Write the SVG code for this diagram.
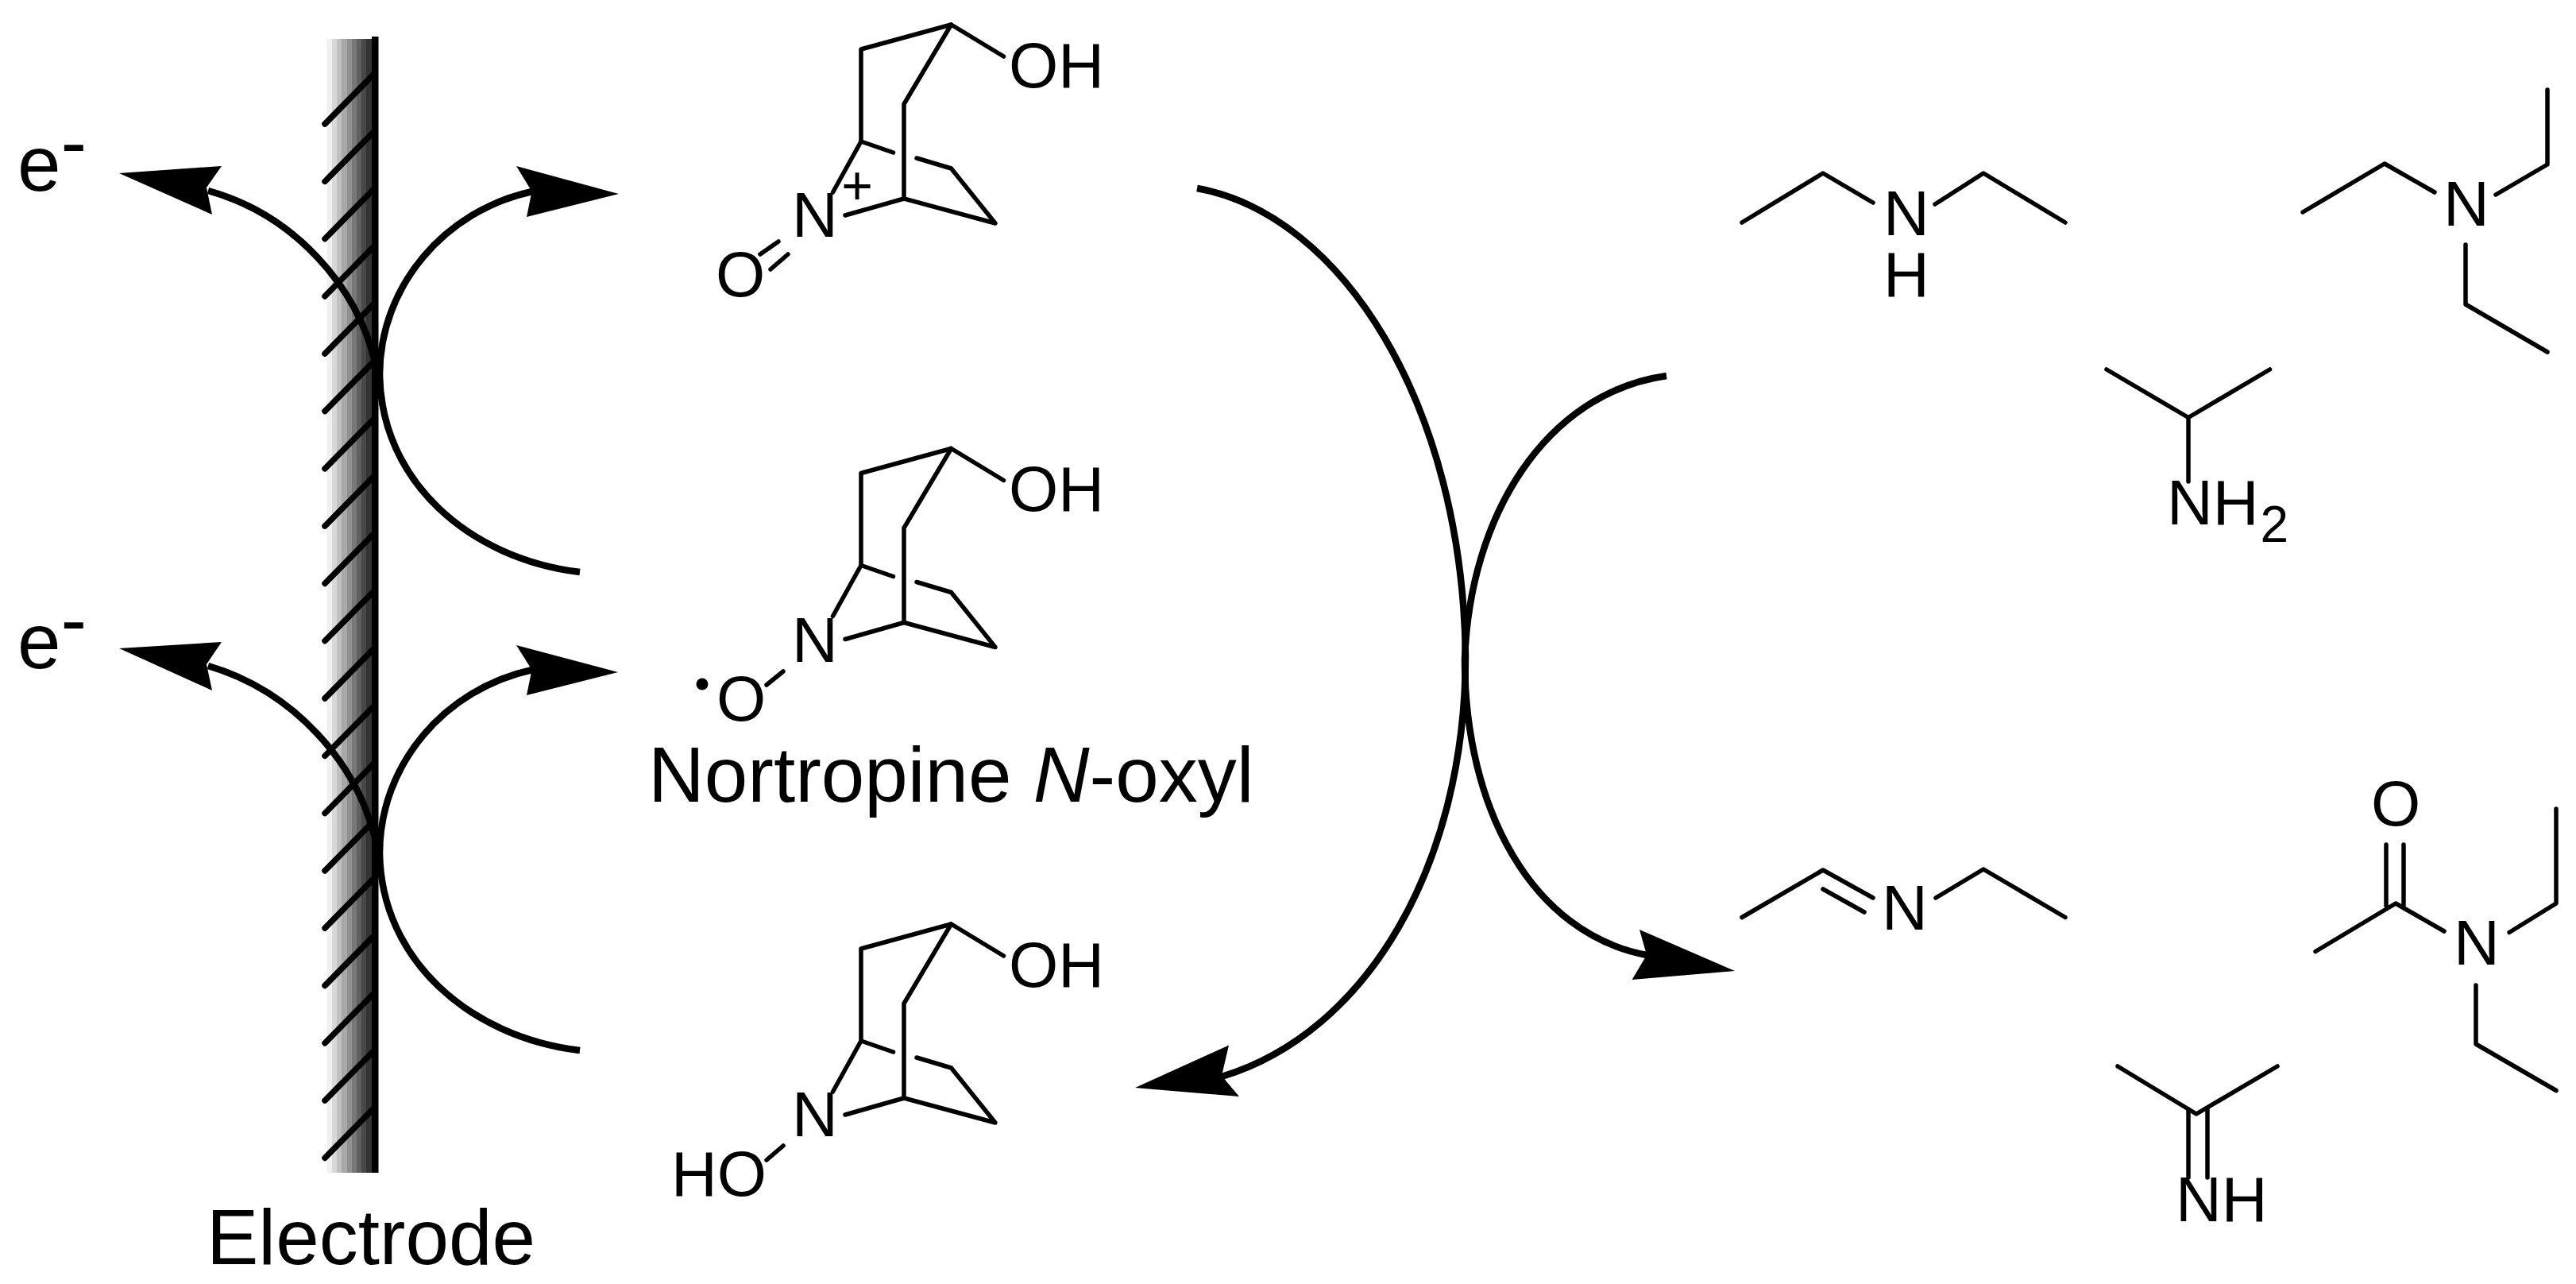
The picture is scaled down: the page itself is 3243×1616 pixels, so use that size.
<svg xmlns="http://www.w3.org/2000/svg" width="3243" height="1616" viewBox="0 0 3243 1616">
<style>
text{font-family:"Liberation Sans",Arial,sans-serif;font-size:80px;fill:#000}
.big{font-size:98px}
.sub{font-size:64px}
.plus{font-size:68px}
.b{fill:none;stroke:#000;stroke-width:5.5;stroke-linecap:round;stroke-linejoin:round}
.c{fill:none;stroke:#000;stroke-width:8.5}
.h{fill:#000}
.hatch{stroke:#000;stroke-width:7.5;stroke-linecap:round}
</style>
<defs>
<linearGradient id="bar" x1="412" x2="468" y1="0" y2="0" gradientUnits="userSpaceOnUse">
<stop offset="0" stop-color="#f0f0f0"/><stop offset=".11" stop-color="#f0f0f0"/>
<stop offset=".11" stop-color="#d8d8d8"/><stop offset=".22" stop-color="#d8d8d8"/>
<stop offset=".22" stop-color="#c0c0c0"/><stop offset=".33" stop-color="#c0c0c0"/>
<stop offset=".33" stop-color="#a8a8a8"/><stop offset=".44" stop-color="#a8a8a8"/>
<stop offset=".44" stop-color="#909090"/><stop offset=".55" stop-color="#909090"/>
<stop offset=".55" stop-color="#787878"/><stop offset=".66" stop-color="#787878"/>
<stop offset=".66" stop-color="#606060"/><stop offset=".77" stop-color="#606060"/>
<stop offset=".77" stop-color="#484848"/><stop offset=".88" stop-color="#484848"/>
<stop offset=".88" stop-color="#333333"/><stop offset="1" stop-color="#333333"/>
</linearGradient>
<g id="hatchmark"><line class="hatch" x1="409" y1="156" x2="470" y2="94"/></g>
<g id="bicycle">
<polyline class="b" points="1263.5,71 1197.5,31 1084,62 1084,178 1048.5,242"/>
<polyline class="b" points="1197.5,31 1138,131 1138,250 1064,271"/>
<polyline class="b" points="1138,250 1253,281 1197.5,212 1154,199"/>
<line class="b" x1="1084" y1="178" x2="1124.5" y2="192"/>
</g>
</defs>

<g id="electrode">
<rect x="412" y="49" width="56" height="1427" fill="url(#bar)"/>
<use href="#hatchmark"/>
<use href="#hatchmark" y="72.3"/>
<use href="#hatchmark" y="144.6"/>
<use href="#hatchmark" y="216.9"/>
<use href="#hatchmark" y="289.2"/>
<use href="#hatchmark" y="361.5"/>
<use href="#hatchmark" y="433.8"/>
<use href="#hatchmark" y="506.1"/>
<use href="#hatchmark" y="578.4"/>
<use href="#hatchmark" y="650.7"/>
<use href="#hatchmark" y="723"/>
<use href="#hatchmark" y="795.3"/>
<use href="#hatchmark" y="867.6"/>
<use href="#hatchmark" y="939.9"/>
<use href="#hatchmark" y="1012.2"/>
<use href="#hatchmark" y="1084.5"/>
<use href="#hatchmark" y="1156.8"/>
<use href="#hatchmark" y="1229.1"/>
<use href="#hatchmark" y="1301.4"/>
<rect x="468" y="46" width="8.5" height="1430" fill="#000"/>
<text class="big" x="260" y="1591">Electrode</text>
</g>

<g id="electron-1"><text class="big" x="22" y="240">e<tspan dy="-28">-</tspan></text></g>
<g id="electron-2"><text class="big" x="22" y="841">e<tspan dy="-28">-</tspan></text></g>

<g id="connectors">
<path class="c" d="M473,459 C450,360 370,270 262,240"/>
<polygon class="h" points="150,218 279,209 260,236 267,270"/>
<path class="c" d="M730,720 C590,703 480,605 478,472 C478,360 560,265 670,241"/>
<polygon class="h" points="779,244 650,209 669.5,241 663,273"/>
<path class="c" d="M473,1059 C450,960 370,870 262,838"/>
<polygon class="h" points="150,816 279,808 260,836 267,869"/>
<path class="c" d="M730,1322 C590,1305 480,1207 478,1074 C478,962 560,867 670,843"/>
<polygon class="h" points="778,846 650,812 669.5,843 663,875"/>
<path class="c" d="M1507,237 C1690,270 1841,510 1845,825 C1845,1090 1720,1300 1538,1355"/>
<polygon class="h" points="1429,1369 1547,1315.5 1538,1354 1560,1380"/>
<path class="c" d="M2098,473 C1945,495 1850,650 1844,830 C1844,1020 1930,1175 2073,1202"/>
<polygon class="h" points="2184,1222 2064,1170 2073,1202 2054.6,1233"/>
</g>

<g id="n-oxoammonium">
<use href="#bicycle"/>
<text x="1270" y="110">OH</text>
<text x="997" y="298">N</text>
<text class="plus" x="1079" y="257" text-anchor="middle">+</text>
<text x="932" y="373" text-anchor="middle">O</text>
<line class="b" x1="957" y1="320" x2="980" y2="304"/>
<line class="b" x1="970" y1="339" x2="992" y2="320"/>
</g>

<g id="nortropine-n-oxyl">
<use href="#bicycle" y="533.5"/>
<text x="1270" y="643">OH</text>
<text x="997" y="833">N</text>
<text x="933" y="907" text-anchor="middle">O</text>
<line class="b" x1="965" y1="862" x2="986" y2="845"/>
<circle cx="884" cy="861" r="7.5" fill="#000"/>
<text class="big" x="816" y="1009">Nortropine <tspan font-style="italic">N</tspan>-oxyl</text>
</g>

<g id="hydroxylamine">
<use href="#bicycle" y="1132"/>
<text x="1270" y="1242">OH</text>
<text x="997" y="1430">N</text>
<text x="845" y="1505">HO</text>
<line class="b" x1="965" y1="1460" x2="986" y2="1442"/>
</g>

<g id="diethylamine">
<polyline class="b" points="2193,280 2295,218 2358,255"/>
<polyline class="b" points="2436,257 2497,218 2600,280"/>
<text x="2400" y="296" text-anchor="middle">N</text>
<text x="2400" y="373" text-anchor="middle">H</text>
</g>

<g id="triethylamine">
<polyline class="b" points="2899,267 3002,206 3065,242"/>
<polyline class="b" points="3142,245 3207,207 3207,113"/>
<polyline class="b" points="3104,308 3104,383 3207,443"/>
<text x="3105" y="284" text-anchor="middle">N</text>
</g>

<g id="isopropylamine">
<polyline class="b" points="2652,465 2755,525.5 2857.5,465"/>
<line class="b" x1="2755" y1="525.5" x2="2755" y2="606"/>
<text x="2728" y="660">NH<tspan class="sub" dx="2" dy="22">2</tspan></text>
</g>

<g id="imine">
<polyline class="b" points="2193,1154.5 2295,1095 2358,1130"/>
<line class="b" x1="2295" y1="1119" x2="2347" y2="1148"/>
<polyline class="b" points="2437,1130 2497,1094 2600,1154.5"/>
<text x="2398" y="1170" text-anchor="middle">N</text>
</g>

<g id="amide">
<text x="3016" y="1039" text-anchor="middle">O</text>
<line class="b" x1="3004" y1="1063" x2="3004" y2="1140"/>
<line class="b" x1="3026" y1="1063" x2="3026" y2="1140"/>
<polyline class="b" points="2915,1197.5 3016,1137 3077,1172"/>
<polyline class="b" points="3159,1173.5 3218,1137 3218,1018"/>
<polyline class="b" points="3117,1240 3117,1314 3218,1372.5"/>
<text x="3118" y="1214" text-anchor="middle">N</text>
</g>

<g id="ketimine">
<polyline class="b" points="2666,1342 2765,1402 2867,1342"/>
<line class="b" x1="2755" y1="1396" x2="2755" y2="1482"/>
<line class="b" x1="2779" y1="1396" x2="2779" y2="1482"/>
<text x="2739" y="1537">NH</text>
</g>
</svg>
